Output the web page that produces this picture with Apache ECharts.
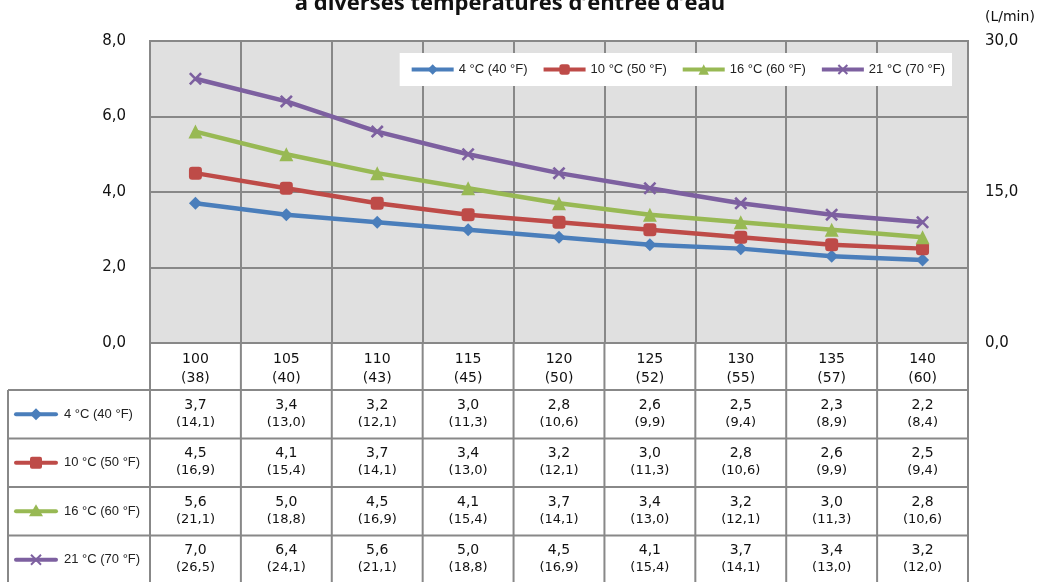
<!DOCTYPE html>
<html><head><meta charset="utf-8">
<script src="https://cdn.jsdelivr.net/npm/echarts@6/dist/echarts.min.js"></script>
<style>html,body{margin:0;padding:0;background:#fff}#c{width:1040px;height:582px}</style>
</head><body><div id="c"></div>
<script>
// Water temperature setpoints: °F with °C in brackets
const tempsF = ['100', '105', '110', '115', '120', '125', '130', '135', '140'];
const tempsC = ['38', '40', '43', '45', '50', '52', '55', '57', '60'];

// Inlet water temperatures (one series each)
const seriesNames = ['4 °C (40 °F)', '10 °C (50 °F)', '16 °C (60 °F)', '21 °C (70 °F)'];

// Flow rate in GPM (left axis)
const gpm4  = [3.7, 3.4, 3.2, 3.0, 2.8, 2.6, 2.5, 2.3, 2.2];
const gpm10 = [4.5, 4.1, 3.7, 3.4, 3.2, 3.0, 2.8, 2.6, 2.5];
const gpm16 = [5.6, 5.0, 4.5, 4.1, 3.7, 3.4, 3.2, 3.0, 2.8];
const gpm21 = [7.0, 6.4, 5.6, 5.0, 4.5, 4.1, 3.7, 3.4, 3.2];

// Same flow rates in L/min (table only)
const lpm4  = [14.1, 13.0, 12.1, 11.3, 10.6, 9.9, 9.4, 8.9, 8.4];
const lpm10 = [16.9, 15.4, 14.1, 13.0, 12.1, 11.3, 10.6, 9.9, 9.4];
const lpm16 = [21.1, 18.8, 16.9, 15.4, 14.1, 13.0, 12.1, 11.3, 10.6];
const lpm21 = [26.5, 24.1, 21.1, 18.8, 16.9, 15.4, 14.1, 13.0, 12.0];

// Axis ranges
const leftMax = 8, leftStep = 2;
const rightMax = 30, rightStep = 15;

const gpmSets = [gpm4, gpm10, gpm16, gpm21];
const lpmSets = [lpm4, lpm10, lpm16, lpm21];
const colors = ['#4a7ebb', '#be4b48', '#98b954', '#7d60a0'];
const crossPath = 'path://M0,1.4L1.4,0L5,3.6L8.6,0L10,1.4L6.4,5L10,8.6L8.6,10L5,6.4L1.4,10L0,8.6L3.6,5Z';
const symbols = ['diamond', 'roundRect', 'triangle', crossPath];
const symbolSizes = [13, 13, 14, 13];

const numFont = '"DejaVu Sans", sans-serif';
const legFont = '"Liberation Sans", Arial, sans-serif';
const comma = (v, d) => v.toFixed(d).replace('.', ',');

const chart = echarts.init(document.getElementById('c'), null, { renderer: 'canvas' });

const grid = { left: 150, right: 72, top: 41, bottom: 239 };

chart.setOption({
  animation: false,
  backgroundColor: '#ffffff',
  grid: Object.assign({ show: true, backgroundColor: '#e0e0e0', borderColor: '#888888', borderWidth: 2 }, grid),
  legend: {
    data: seriesNames,
    right: 88, top: 53,
    backgroundColor: '#ffffff',
    padding: [10, 7, 10, 10],
    itemWidth: 42, itemHeight: 13, itemGap: 14,
    lineStyle: { width: 4 },
    textStyle: { fontFamily: legFont, fontSize: 13, color: '#222' }
  },
  xAxis: {
    type: 'category',
    data: tempsF,
    boundaryGap: true,
    axisLine: { show: false },
    axisTick: { show: false },
    axisLabel: {
      margin: 7,
      interval: 0,
      formatter: (v, i) => v + '\n(' + tempsC[i] + ')',
      fontFamily: numFont, fontSize: 14, lineHeight: 19, color: '#111'
    },
    splitLine: { show: true, interval: 0, lineStyle: { color: '#888888', width: 2 } }
  },
  yAxis: [
    {
      type: 'value', min: 0, max: leftMax, interval: leftStep,
      axisLine: { show: false }, axisTick: { show: false },
      axisLabel: { margin: 24, formatter: v => comma(v, 1), fontFamily: numFont, fontSize: 15, color: '#111' },
      splitLine: { show: true, lineStyle: { color: '#888888', width: 2 } }
    },
    {
      type: 'value', min: 0, max: rightMax, interval: rightStep,
      axisLine: { show: false }, axisTick: { show: false },
      axisLabel: { margin: 17, formatter: v => comma(v, 1), fontFamily: numFont, fontSize: 15, color: '#111' },
      splitLine: { show: false }
    }
  ],
  series: seriesNames.map((name, k) => ({
    name: name,
    type: 'line',
    data: gpmSets[k],
    yAxisIndex: 0,
    symbol: symbols[k],
    symbolSize: symbolSizes[k],
    lineStyle: { color: colors[k], width: 4.5 },
    itemStyle: { color: colors[k] },
    z: 3 + k
  }))
});

// Data table under the chart, aligned with the category columns
const colCenters = tempsF.map((_, i) => chart.convertToPixel({ xAxisIndex: 0 }, i));
const colW = colCenters.length > 1 ? colCenters[1] - colCenters[0] : 90;
const plotRight = 1040 - grid.right, plotBottom = 582 - grid.bottom;
const tableLeft = 8, headerBottom = 390, rowH = 48.5, tableBottom = 600;
const lineStyle = { stroke: '#888888', lineWidth: 2 };
const g = [];

// Title (upper part sits above the visible frame)
g.push({ type: 'text', x: 510, y: 4, style: { text: 'à diverses températures d\u2019entrée d\u2019eau', fontFamily: '"Open Sans", sans-serif', fontWeight: 'bold', fontSize: 22, fill: '#111', textAlign: 'center', textVerticalAlign: 'middle' } });
// Unit of the right axis
g.push({ type: 'text', x: 985, y: 17, style: { text: '(L/min)', fontFamily: numFont, fontSize: 14, fill: '#111', textVerticalAlign: 'middle' } });

// Column boundaries from the header down through the table
for (let i = 0; i <= colCenters.length; i++) {
  const x = i < colCenters.length ? colCenters[i] - colW / 2 : colCenters[i - 1] + colW / 2;
  g.push({ type: 'line', shape: { x1: x, y1: plotBottom, x2: x, y2: tableBottom }, style: lineStyle, z: 10 });
}
// Left border of the series label column
g.push({ type: 'line', shape: { x1: tableLeft, y1: headerBottom, x2: tableLeft, y2: tableBottom }, style: lineStyle, z: 10 });
// Row separators
for (let r = 0; r < seriesNames.length; r++) {
  const y = headerBottom + r * rowH;
  g.push({ type: 'line', shape: { x1: tableLeft, y1: y, x2: plotRight, y2: y }, style: lineStyle, z: 10 });
}

function markerShape(k, cx, cy, color) {
  if (k === 0) return { type: 'polygon', shape: { points: [[cx, cy - 6], [cx + 6, cy], [cx, cy + 6], [cx - 6, cy]] }, style: { fill: color }, z: 12 };
  if (k === 1) return { type: 'rect', shape: { x: cx - 6, y: cy - 6, width: 12, height: 12, r: 2 }, style: { fill: color }, z: 12 };
  if (k === 2) return { type: 'polygon', shape: { points: [[cx, cy - 7], [cx + 7, cy + 5], [cx - 7, cy + 5]] }, style: { fill: color }, z: 12 };
  return { type: 'group', z: 12, children: [
    { type: 'line', shape: { x1: cx - 5, y1: cy - 5, x2: cx + 5, y2: cy + 5 }, style: { stroke: color, lineWidth: 2 } },
    { type: 'line', shape: { x1: cx - 5, y1: cy + 5, x2: cx + 5, y2: cy - 5 }, style: { stroke: color, lineWidth: 2 } }
  ] };
}

seriesNames.forEach((name, k) => {
  const cy = headerBottom + k * rowH + rowH / 2;
  g.push({ type: 'line', shape: { x1: 16, y1: cy, x2: 56, y2: cy }, style: { stroke: colors[k], lineWidth: 4, lineCap: 'round' }, z: 11 });
  g.push(markerShape(k, 36, cy, colors[k]));
  g.push({ type: 'text', x: 64, y: cy, style: { text: name, fontFamily: legFont, fontSize: 13, fill: '#222', textVerticalAlign: 'middle' }, z: 11 });
  colCenters.forEach((cx, i) => {
    g.push({ type: 'text', x: cx, y: cy - 9, style: { text: comma(gpmSets[k][i], 1), fontFamily: numFont, fontSize: 14, fill: '#111', textAlign: 'center', textVerticalAlign: 'middle' }, z: 11 });
    g.push({ type: 'text', x: cx, y: cy + 8, style: { text: '(' + comma(lpmSets[k][i], 1) + ')', fontFamily: numFont, fontSize: 13, fill: '#111', textAlign: 'center', textVerticalAlign: 'middle' }, z: 11 });
  });
});

chart.setOption({ graphic: g });
</script>
</body></html>
